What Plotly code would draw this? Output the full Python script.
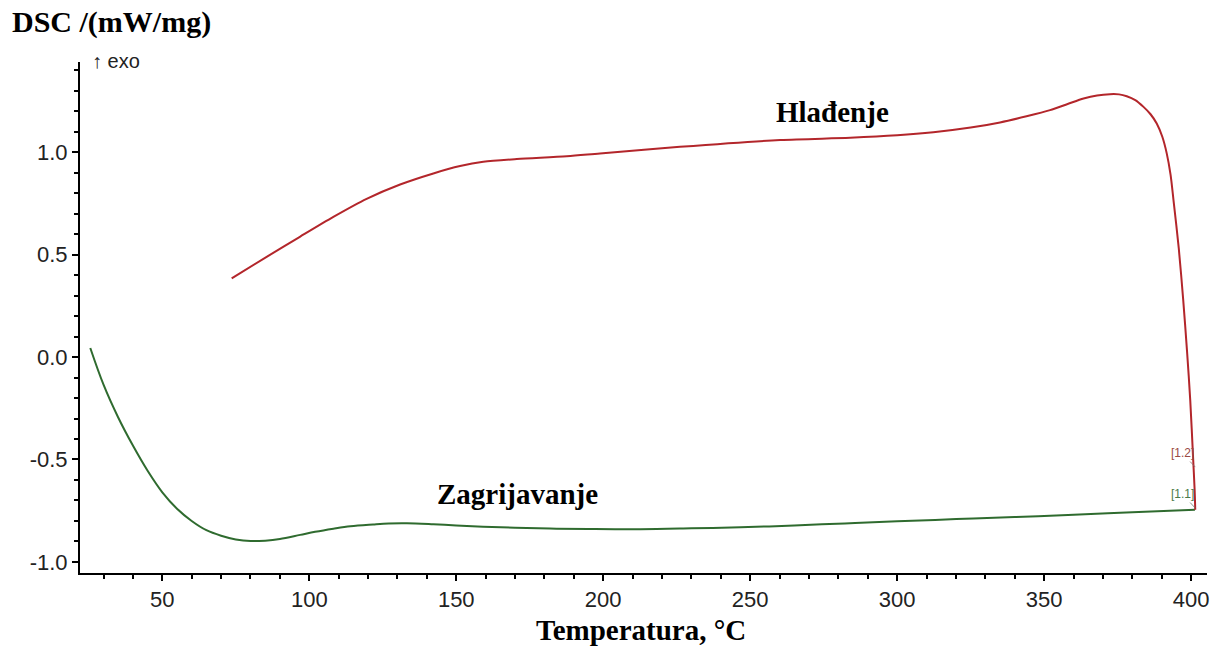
import plotly.graph_objects as go

# Heating curve (Zagrijavanje)
heat_T = [25.5, 30.0, 35.0, 40.0, 45.0, 50.0, 55.0, 60.0, 65.0, 70.0, 75.0, 80.0, 85.0,
          90.0, 96.9, 102.0, 108.2, 114.0, 121.7, 127.0, 133.2, 142.2, 150.0, 159.1, 170.0,
          181.9, 195.0, 212.6, 230.0, 246.7, 265.0, 282.2, 300.0, 320.1, 340.0, 358.1, 380.0, 401.3]
heat_DSC = [0.044, -0.135, -0.295, -0.432, -0.555, -0.66, -0.74, -0.80, -0.845, -0.872, -0.89,
            -0.898, -0.896, -0.888, -0.868, -0.853, -0.838, -0.826, -0.817, -0.812,
            -0.811, -0.816, -0.822, -0.828, -0.833, -0.837, -0.839, -0.840, -0.836, -0.831,
            -0.822, -0.812, -0.802, -0.791, -0.781, -0.771, -0.758, -0.745]

# Cooling curve (Hlađenje)
cool_T = [73.6, 85.5, 96.8, 108.2, 119.5, 130.9, 142.2, 151.3, 159.2, 170.6, 187.6, 198.9,
          226.1, 260.2, 284.0, 300.0, 312.3, 325.0, 335.0, 344.0, 352.0, 358.0, 363.4, 368.0,
          372.4, 375.5, 378.1, 381.0, 383.8, 386.2, 388.3, 390.2, 391.7, 393.0, 394.0, 395.8,
          397.3, 398.6, 399.7, 400.7, 401.2, 401.4]
cool_DSC = [0.384, 0.489, 0.587, 0.684, 0.772, 0.842, 0.896, 0.932, 0.953, 0.966, 0.980, 0.994,
            1.026, 1.059, 1.070, 1.082, 1.097, 1.120, 1.145, 1.175, 1.205, 1.235, 1.262, 1.277,
            1.283, 1.282, 1.273, 1.254, 1.221, 1.185, 1.140, 1.075, 0.994, 0.890, 0.766, 0.530,
            0.280, 0.030, -0.210, -0.500, -0.650, -0.745]

x_tickvals = [50, 100, 150, 200, 250, 300, 350, 400]
x_ticktext = ["50", "100", "150", "200", "250", "300", "350", "400"]
y_tickvals = [-1.0, -0.5, 0.0, 0.5, 1.0]
y_ticktext = ["-1.0", "-0.5", "0.0", "0.5", "1.0"]

RED = "#b3262b"
GREEN = "#2f6b2f"
serif = "Liberation Serif, Times New Roman, serif"
sans = "Liberation Sans, Arial, sans-serif"

fig = go.Figure()
fig.add_trace(go.Scatter(x=heat_T, y=heat_DSC, mode="lines",
                         line=dict(color=GREEN, width=2, shape="spline", smoothing=1.0),
                         showlegend=False, hoverinfo="skip"))
fig.add_trace(go.Scatter(x=cool_T, y=cool_DSC, mode="lines",
                         line=dict(color=RED, width=2, shape="spline", smoothing=0.8),
                         showlegend=False, hoverinfo="skip"))

axis_common = dict(showgrid=False, zeroline=False, showline=True, linecolor="black", linewidth=2,
                   ticks="outside", ticklen=6, tickwidth=2, tickcolor="black",
                   tickfont=dict(family=sans, size=22, color="#222"))

fig.update_xaxes(range=[22.0, 405.4], tickvals=x_tickvals, ticktext=x_ticktext,
                 minor=dict(ticks="outside", dtick=10, tick0=0, ticklen=4, tickwidth=1.5, tickcolor="black"),
                 **axis_common)
fig.update_yaxes(range=[-1.054, 1.44], tickvals=y_tickvals, ticktext=y_ticktext,
                 minor=dict(ticks="outside", dtick=0.1, tick0=0, ticklen=4, tickwidth=1.5, tickcolor="black"),
                 **axis_common)

ann = []
ann.append(dict(text="<b>DSC /(mW/mg)</b>", xref="paper", yref="paper", x=-0.0621, y=1.078,
                xanchor="left", yanchor="middle", showarrow=False,
                font=dict(family=serif, size=30, color="black")))
ann.append(dict(text="↑ exo", xref="paper", yref="paper", x=0.009, y=1.002,
                xanchor="left", yanchor="middle", showarrow=False,
                font=dict(family=sans, size=20, color="#222")))
ann.append(dict(text="<b>Temperatura, °C</b>", xref="paper", yref="paper", x=0.498, y=-0.112,
                xanchor="center", yanchor="middle", showarrow=False,
                font=dict(family=serif, size=29, color="black")))
ann.append(dict(text="<b>Hlađenje</b>", x=277.9, y=1.195, xanchor="center", yanchor="middle",
                showarrow=False, font=dict(family=serif, size=29, color="black")))
ann.append(dict(text="<b>Zagrijavanje</b>", x=171.0, y=-0.668, xanchor="center", yanchor="middle",
                showarrow=False, font=dict(family=serif, size=29, color="black")))
ann.append(dict(text="[1.2]", x=401.4, y=-0.537, ax=-13, ay=-14, axref="pixel", ayref="pixel",
                showarrow=True, arrowhead=0, arrowwidth=0.8, arrowcolor="#8a6a6a", standoff=0,
                font=dict(family=sans, size=12, color="#9a4a44")))
ann.append(dict(text="[1.1]", x=401.4, y=-0.737, ax=-13, ay=-14, axref="pixel", ayref="pixel",
                showarrow=True, arrowhead=0, arrowwidth=0.8, arrowcolor="#6a7a6a", standoff=0,
                font=dict(family=sans, size=12, color="#4a7a4a")))

fig.update_layout(width=1221, height=649, margin=dict(l=80, r=14, t=62, b=76),
                  paper_bgcolor="white", plot_bgcolor="white", annotations=ann)

# remove the browser's default 8px body margin so the figure fills the window exactly
fig.write_html("out.html", config={"displayModeBar": False},
               post_script="document.body.style.margin='0px';")
